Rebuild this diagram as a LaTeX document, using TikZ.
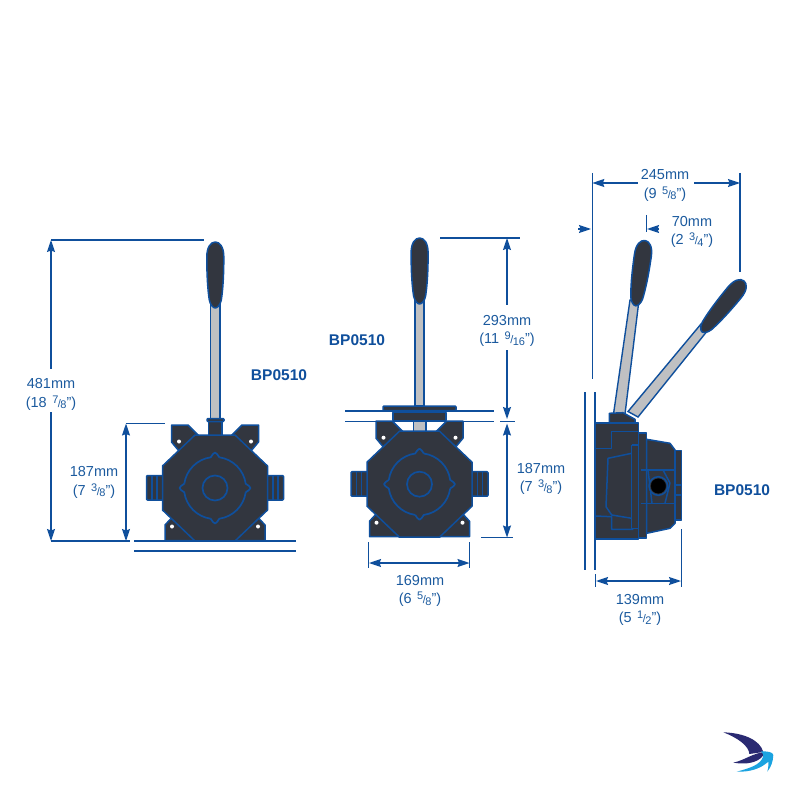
\documentclass[tikz,border=0pt]{standalone}
\usepackage{fontspec}
\setmainfont{Liberation Sans}
\usetikzlibrary{arrows.meta}

\definecolor{dimblue}{HTML}{1B5A9E}
\definecolor{edgeblue}{HTML}{0F4F9C}
\definecolor{bodydark}{HTML}{32363F}
\definecolor{shaftgrey}{HTML}{BFC0C2}
\definecolor{logonavy}{HTML}{2A2A72}
\definecolor{logocyan}{HTML}{1BA3E0}

\newcommand{\frc}[2]{\kern1.5pt{\fontsize{11}{10}\selectfont\raisebox{4pt}{#1}\kern-.5pt/\kern-.5pt\raisebox{-1.5pt}{#2}}}

\tikzset{
    dimline/.style={draw=edgeblue, line width=1.3pt},
    dimarrow/.style={dimline, >={Stealth[length=12pt,width=8pt,inset=1.5pt]}},
    dimtext/.style={text=dimblue, align=center, font=\fontsize{14.5}{18.5}\selectfont, inner sep=0pt},
    partname/.style={text=edgeblue, font=\fontsize{15.5}{16}\selectfont\bfseries, inner sep=0pt},
    bodypart/.style={draw=edgeblue, fill=bodydark, line width=1.5pt, line join=round},
    bodyline/.style={draw=edgeblue, line width=1.5pt, line join=round},
    shaftpart/.style={draw=edgeblue, fill=shaftgrey, line width=1.4pt},
    grip/.pic={
        \draw[bodypart] (-8.5,15) .. controls (-8.5,5) and (-4.5,0) .. (0,0)
            .. controls (4.5,0) and (8.5,5) .. (8.5,15)
            .. controls (8.5,35) and (7.5,48) .. (6,58)
            .. controls (5,63) and (2,66) .. (0,66)
            .. controls (-2,66) and (-5,63) .. (-6,58)
            .. controls (-7.5,48) and (-8.5,35) .. (-8.5,15) -- cycle;
    },
    pumpfront/.pic={
        \foreach \s in {-1,1} {
            \begin{scope}[xscale=\s]
                % side port
                \draw[bodypart, rounded corners=1pt] (50,-12.5) rectangle (68.5,12);
                \draw[bodyline] (58,-12.5) -- (58,12) (63,-12.5) -- (63,12);
                % ears
                \draw[bodypart] (-43.5,-63) -- (-27,-63) -- (-16,-52) -- (-36,-37) -- (-43.5,-46) -- cycle;
                \draw[bodypart] (-50,52.5) -- (-50,37) -- (-44,30.5) -- (-35,30.5) -- (-20,52.5) -- cycle;
                \fill[white] (-36,-46.5) circle (2);
                \fill[white] (-43,38.5) circle (2);
            \end{scope}
        }
        \draw[bodypart] (-20,-53) -- (20,-53) -- (52.5,-22) -- (52.5,22) -- (20,53) -- (-20,53) -- (-52.5,22) -- (-52.5,-22) -- cycle;
        \foreach \a in {0,90,180,270} {
            \draw[bodyline, line width=1.7pt] ({\a+8}:31) arc[start angle=\a+8, delta angle=74, radius=31]
                .. controls ({\a+86}:33) and ({\a+87}:35.5) .. ({\a+90}:35.5)
                .. controls ({\a+93}:35.5) and ({\a+94}:33) .. ({\a+98}:31);
        }
        \draw[bodyline, line width=1.7pt] (0,0) circle (12.5);
    },
}

\begin{document}
\begin{tikzpicture}[x=1pt, y=-1pt]
    \useasboundingbox (0,0) rectangle (794,794);

    % left pump
    \draw[shaftpart] (210.5,300) rectangle (220,419);
    \draw[bodypart] (208.5,420) rectangle (222,436);
    \draw[bodypart, rounded corners=1pt] (207,418.5) rectangle (224,421.5);
    \pic at (215.3,242) {grip};
    \pic at (215,488) {pumpfront};

    \coordinate (Atop) at (51,240);
    \coordinate (Abot) at (51,541);
    \coordinate (Agapt) at (51,369);
    \coordinate (Agapb) at (51,412);
    \coordinate (Amid) at (126,423.5);
    \coordinate (Amidb) at (126,541);
    \coordinate (Atopr) at (204,240);
    \coordinate (Abotr) at (130,541);
    \coordinate (Amidr) at (165,423.5);
    \coordinate (Abase) at (134,541);
    \coordinate (Abaser) at (296,541);
    \coordinate (Bbase) at (134,551);
    \coordinate (Bbaser) at (296,551);

    \node[dimtext] (lefttotal) at (51,394.5) {481mm\\(18 \frc{7}{8}")};
    \node[dimtext] (leftbody) at (94,482.5) {187mm\\(7 \frc{3}{8}")};
    \node[partname] (leftname) at (279,375) {BP0510};

    \draw[dimline] (Atop) -- (Atopr);
    \draw[dimline] (Abot) -- (Abotr);
    \draw[dimline] (Amid) -- (Amidr);
    \draw[dimarrow,<-] (Atop) -- (Agapt);
    \draw[dimarrow,->] (Agapb) -- (Abot);
    \draw[dimarrow,<->] (Amid) -- (Amidb);
    \draw[dimline, line width=1.8pt] (Abase) -- (Abaser);
    \draw[dimline, line width=1.8pt] (Bbase) -- (Bbaser);

    % middle pump
    \draw[shaftpart] (415,300) rectangle (424,406);
    \draw[shaftpart] (413.5,421) rectangle (426,432);
    \pic at (419.6,238) {grip};
    \pic at (419.5,484.2) {pumpfront};
    \draw[bodypart, rounded corners=1pt] (383,406) rectangle (456,410.5);
    \draw[bodypart] (393,412.5) rectangle (446,420.5);

    \coordinate (Ctop) at (507,238);
    \coordinate (Ctopl) at (440,238);
    \coordinate (Ctopr) at (520,238);
    \coordinate (Cgapt) at (507,305);
    \coordinate (Cgapb) at (507,350);
    \coordinate (Cflange) at (507,419);
    \coordinate (Cbody) at (507,423.5);
    \coordinate (Cbot) at (507,537.5);
    \coordinate (Cbotl) at (481,537.5);
    \coordinate (Cbotr) at (513,537.5);
    \coordinate (Dleft) at (369,563);
    \coordinate (Dright) at (469.5,563);
    \coordinate (Epa) at (345,411);
    \coordinate (Epb) at (494,411);
    \coordinate (Eqa) at (345,421.3);
    \coordinate (Eqb) at (494,421.3);
    \coordinate (Eqc) at (500,421.3);
    \coordinate (Eqd) at (515,421.3);

    \node[dimtext] (midupper) at (507,331) {293mm\\(11 \frc{9}{16}")};
    \node[dimtext] (midbody) at (541,479) {187mm\\(7 \frc{3}{8}")};
    \node[dimtext] (midwidth) at (420,591) {169mm\\(6 \frc{5}{8}")};
    \node[partname] (midname) at (357,340) {BP0510};

    \draw[dimline] (Ctopl) -- (Ctopr);
    \draw[dimarrow,<-] (Ctop) -- (Cgapt);
    \draw[dimarrow,->] (Cgapb) -- (Cflange);
    \draw[dimarrow,<->] (Cbody) -- (Cbot);
    \draw[dimline] (Cbotl) -- (Cbotr);
    \draw[dimline] (Epa) -- (Epb);
    \draw[dimline] (Eqa) -- (Eqb);
    \draw[dimline] (Eqc) -- (Eqd);
    \draw[dimarrow,<->] (Dleft) -- (Dright);
    \draw[dimline] (368.7,542) -- (368.7,568);
    \draw[dimline] (469.7,542) -- (469.7,568);

    % right pump, seen from the side
    \draw[shaftpart] (613.5,414) -- (630,300) -- (639,300) -- (625,414) -- cycle;
    \draw[shaftpart] (628,411.5) -- (701,324) -- (708,330) -- (638,417) -- cycle;
    \pic[rotate=-8.2] at (645,240.5) {grip};
    \pic[rotate=-39.6] at (744,281) {grip};
    \draw[bodypart] (609.3,413.3) -- (623,412.7) -- (635,419.3) -- (635,423) -- (609.3,423) -- cycle;
    \draw[bodypart] (595.3,423) -- (638.3,423) -- (638.3,539) -- (595.3,539) -- cycle;
    \draw[bodypart] (638.3,433) -- (646.7,433) -- (646.7,538) -- (638.3,538) -- cycle;
    \draw[bodypart] (646.7,439.3) -- (670,443.3) -- (675,450) -- (675,523.3) -- (670,528.3) -- (646.7,533.3) -- cycle;
    \draw[bodypart] (675,450.7) -- (681.7,450.7) -- (681.7,520) -- (675,520) -- cycle;
    \draw[bodyline] (675,485) -- (681.7,485) (675,495) -- (681.7,495);
    \draw[bodyline] (595.3,448.3) -- (611.7,448.3) -- (611.7,431.7) -- (638.3,431.7);
    \draw[bodyline] (595.3,516) -- (611.7,516.7) -- (611.7,529.3) -- (633.3,529.3);
    \draw[bodyline] (631.7,453.3) -- (608,458.3) -- (606,506.7) -- (611.7,515) -- (631.7,518.3);
    \draw[bodyline] (631.7,445) -- (631.7,528.3) -- (638.3,528.3) (631.7,445) -- (638.3,445);
    \draw[bodyline] (640.7,470) -- (675,470) (640.7,503.3) -- (675,503.3);
    \draw[bodyline] (648,470) -- (652,503.3) (663,470) -- (670,483) -- (665,503.3);
    \draw[bodyline, fill=bodydark] (658.3,486) circle (9.3);
    \draw[fill=black, draw=black] (658.3,486) circle (7.3);

    \coordinate (Fleft) at (592.3,183);
    \coordinate (Fright) at (740,183);
    \coordinate (Fgapl) at (638,183);
    \coordinate (Fgapr) at (694,183);
    \coordinate (Ga) at (578,229);
    \coordinate (Gb) at (591,229);
    \coordinate (Gc) at (659,229);
    \coordinate (Gd) at (647,229);
    \coordinate (Ha) at (596,581);
    \coordinate (Hb) at (681,581);

    \node[dimtext] (righttotal) at (665,185.5) {245mm\\(9 \frc{5}{8}")};
    \node[dimtext] (rightstroke) at (692,232) {70mm\\(2 \frc{3}{4}")};
    \node[dimtext] (rightdepth) at (640,610) {139mm\\(5 \frc{1}{2}")};
    \node[partname] (rightname) at (742,490) {BP0510};

    \draw[dimarrow,<-] (Fleft) -- (Fgapl);
    \draw[dimarrow,->] (Fgapr) -- (Fright);
    \draw[dimarrow,->] (Ga) -- (Gb);
    \draw[dimarrow,->] (Gc) -- (Gd);
    \draw[dimarrow,<->] (Ha) -- (Hb);
    \draw[dimline] (592.3,173) -- (592.3,379);
    \draw[dimline] (740,173) -- (740,272);
    \draw[dimline] (646.3,215) -- (646.3,232);
    \draw[dimline, line width=1.6pt] (584.7,392) -- (584.7,570);
    \draw[dimline, line width=1.6pt] (594.7,392) -- (594.7,570);
    \draw[dimline] (595.5,574) -- (595.5,587);
    \draw[dimline] (681.3,529) -- (681.3,587);

    % logo
    \fill[logonavy] (723.3,732.3) .. controls (744,733) and (760,740) .. (763.3,752)
        -- (749.3,754) .. controls (749,746) and (738,738) .. (723.3,732.3) -- cycle;
    \fill[logonavy] (733.3,762.7) .. controls (745,760) and (753,753) .. (765,752)
        -- (762,757) .. controls (757,762) and (748,765) .. (733.3,762.7) -- cycle;
    \fill[logocyan] (736.7,771.7) .. controls (750,768) and (760,765) .. (763,757)
        .. controls (764,755) and (763,753) .. (761,751.5)
        .. controls (767,751) and (773,752) .. (773.3,755)
        .. controls (773,762) and (771,767) .. (767.3,771.7)
        .. controls (768.5,767) and (768.5,764) .. (768.3,761.7)
        .. controls (760,769) and (750,772) .. (736.7,771.7) -- cycle;
\end{tikzpicture}
\end{document}
